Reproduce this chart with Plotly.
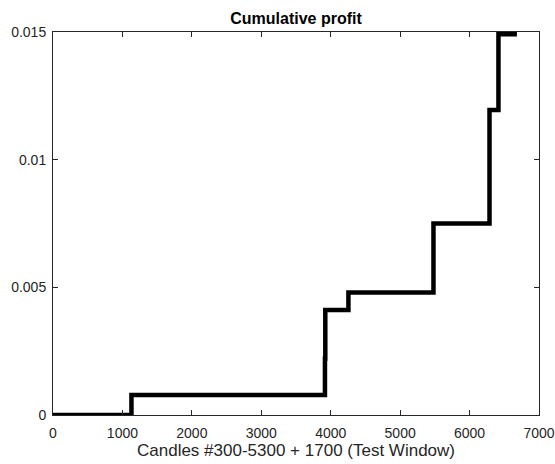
import plotly.graph_objects as go

# Step positions (candle index) and cumulative profit after each step
step_x = [0, 1130, 3917, 3922, 4255, 5480, 6287, 6416, 6682]
step_y = [0.0, 0.00078, 0.0022, 0.00411, 0.0048, 0.0075, 0.01195, 0.01491, 0.01491]

x_ticks = [0, 1000, 2000, 3000, 4000, 5000, 6000, 7000]
y_ticks = [0, 0.005, 0.01, 0.015]
y_tick_labels = ["0", "0.005", "0.01", "0.015"]

FONT = "Liberation Sans, Arial, sans-serif"

fig = go.Figure()
fig.add_trace(go.Scatter(
    x=step_x, y=step_y, mode="lines", line_shape="hv",
    line=dict(color="black", width=4.5), showlegend=False,
))

axis_common = dict(
    showline=True, linecolor="#262626", linewidth=1, mirror="ticks",
    ticks="inside", ticklen=5, tickcolor="#262626", tickwidth=1,
    showgrid=False, zeroline=False, automargin=False,
    tickfont=dict(family=FONT, size=14, color="#262626"),
)

fig.update_layout(
    width=555, height=464,
    margin=dict(l=53, r=16, t=32, b=49),
    paper_bgcolor="white", plot_bgcolor="white",
    title=dict(text="<b>Cumulative profit</b>", x=(53 + 539) / 2 / 555, xanchor="center",
               y=1 - 18 / 464, yanchor="middle",
               font=dict(family=FONT, size=16, color="black")),
    xaxis=dict(range=[0, 7000], tickvals=x_ticks, ticklabelstandoff=5,
               title=dict(text="Candles #300-5300 + 1700 (Test Window)", standoff=3,
                          font=dict(family=FONT, size=17, color="#262626")),
               **axis_common),
    yaxis=dict(range=[0, 0.015], tickvals=y_ticks, ticktext=y_tick_labels,
               ticklabelstandoff=3, **axis_common),
)

fig.write_html("out.html")
